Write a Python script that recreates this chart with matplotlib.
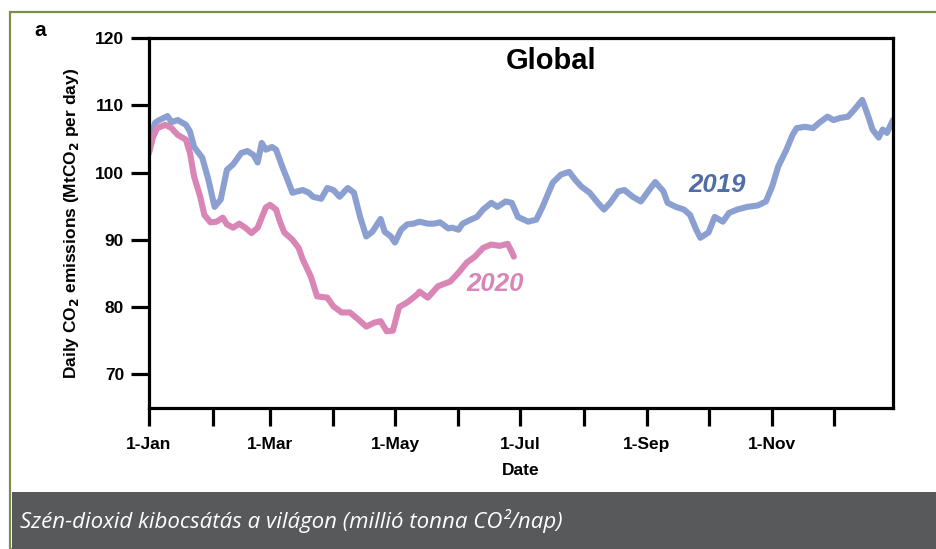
import matplotlib
matplotlib.use("Agg")
import matplotlib.pyplot as plt
from matplotlib.patches import Rectangle

# ---- data (day of year, MtCO2 per day) ----
days_2019 = [0, 3, 5, 9, 11, 14, 18, 20, 22, 26, 29, 32, 35, 38, 41, 45, 48, 51, 53, 55,
             57, 60, 62, 65, 68, 70, 75, 78, 80, 84, 87, 90, 93, 96, 97, 100, 103, 106,
             109, 113, 115, 118, 120, 123, 126, 129, 132, 136, 139, 142, 146, 148, 151,
             153, 157, 160, 163, 167, 170, 174, 177, 180, 185, 189, 192, 197, 201, 205,
             208, 211, 215, 219, 222, 225, 229, 232, 236, 240, 244, 247, 251, 253, 257,
             261, 264, 267, 269, 273, 276, 280, 283, 287, 292, 297, 301, 304, 307, 311,
             314, 316, 320, 324, 327, 331, 334, 337, 341, 344, 348, 351, 353, 356, 358,
             360, 363]
vals_2019 = [104.5, 107.4, 107.8, 108.4, 107.5, 107.8, 107.1, 106.1, 103.8, 102.2, 98.9,
             94.9, 96.0, 100.4, 101.2, 102.9, 103.2, 102.6, 101.5, 104.4, 103.4, 103.8,
             103.4, 100.9, 98.6, 97.0, 97.4, 97.0, 96.4, 96.1, 97.7, 97.4, 96.4, 97.4,
             97.7, 97.0, 93.4, 90.5, 91.2, 93.1, 91.2, 90.5, 89.6, 91.5, 92.3, 92.4, 92.7,
             92.4, 92.4, 92.6, 91.7, 91.8, 91.5, 92.4, 93.0, 93.4, 94.5, 95.5, 94.9, 95.7,
             95.5, 93.4, 92.7, 93.0, 94.9, 98.5, 99.7, 100.1, 98.9, 97.9, 97.0, 95.5, 94.5,
             95.5, 97.2, 97.4, 96.4, 95.7, 97.4, 98.6, 97.2, 95.5, 94.9, 94.5, 93.7, 91.5,
             90.3, 91.1, 93.4, 92.7, 94.0, 94.5, 94.9, 95.1, 95.7, 97.9, 100.9, 103.4,
             105.6, 106.6, 106.8, 106.6, 107.4, 108.3, 107.8, 108.1, 108.3, 109.3, 110.8,
             108.3, 106.4, 105.2, 106.4, 105.9, 107.8]

days_2020 = [0, 2, 4, 8, 11, 14, 18, 20, 22, 25, 27, 30, 33, 36, 38, 41, 44, 47, 50, 53,
             57, 59, 62, 64, 66, 70, 73, 75, 79, 82, 87, 90, 94, 98, 102, 106, 110, 113,
             116, 119, 122, 126, 131, 132, 136, 141, 147, 151, 155, 159, 163, 167, 171,
             175, 177, 178]
vals_2020 = [102.9, 105.3, 106.6, 107.1, 106.6, 105.6, 104.9, 102.9, 99.4, 96.4, 93.7,
             92.6, 92.7, 93.3, 92.3, 91.8, 92.4, 91.8, 91.0, 91.8, 94.8, 95.2, 94.5, 92.6,
             91.1, 90.0, 88.8, 87.1, 84.5, 81.6, 81.4, 80.1, 79.2, 79.2, 78.2, 77.1, 77.7,
             77.9, 76.4, 76.5, 80.0, 80.7, 81.9, 82.3, 81.4, 83.1, 83.8, 85.1, 86.6, 87.5,
             88.8, 89.3, 89.1, 89.4, 88.2, 87.5]

month_starts = [0, 31, 59, 90, 120, 151, 181, 212, 243, 273, 304, 334]
month_labels = ["1-Jan", "", "1-Mar", "", "1-May", "", "1-Jul", "", "1-Sep", "", "1-Nov", ""]
y_ticks = [70, 80, 90, 100, 110, 120]

blue = "#8b9fd1"
pink = "#d985b6"

plt.rcParams['font.family'] = ['Liberation Sans', 'DejaVu Sans']

fig = plt.figure(figsize=(9.36, 5.49), dpi=100)
W, H = 936, 549

# outer frame and caption banner
fig.patches.append(Rectangle((10 / W, 0), 1 - 10 / W + 0.01, 1 - 12 / H, transform=fig.transFigure,
                             facecolor="white", edgecolor="#7b8c4c", linewidth=1.6, zorder=-5))
fig.patches.append(Rectangle((12 / W, 0), 1, 57 / H, transform=fig.transFigure,
                             facecolor="#58595b", edgecolor="none", zorder=-4))
fig.text(20 / W, 28 / H, "Szén-dioxid kibocsátás a világon (millió tonna CO²/nap)",
         family=["Open Sans", "DejaVu Sans"], style="italic", color="white",
         fontsize=16, va="center", ha="left")

ax = fig.add_axes([149 / W, 1 - 408 / H, (893 - 149) / W, (408 - 38) / H])
ax.set_facecolor("none")
ax.plot(days_2019, vals_2019, color=blue, lw=4.4, solid_capstyle="round", solid_joinstyle="round")
ax.plot(days_2020, vals_2020, color=pink, lw=4.4, solid_capstyle="round", solid_joinstyle="round")

ax.set_xlim(0, 363)
ax.set_ylim(65, 120)
ax.set_yticks(y_ticks)
ax.set_yticklabels([str(v) for v in y_ticks], fontweight="bold", fontsize=12.5)
ax.set_xticks(month_starts)
ax.set_xticklabels(month_labels, fontweight="bold", fontsize=12.5)
for s in ax.spines.values():
    s.set_linewidth(2.3)
ax.tick_params(axis="both", direction="out", length=13, width=2.3, pad=5)
ax.tick_params(axis="x", pad=8)

ax.set_xlabel("Date", fontweight="bold", fontsize=12.5, labelpad=8)
ax.set_ylabel("Daily CO$_\\mathbf{2}$ emissions (MtCO$_\\mathbf{2}$ per day)",
              fontweight="bold", fontsize=12.5, labelpad=10)

ax.text(0.54, 0.975, "Global", transform=ax.transAxes, ha="center", va="top",
        fontweight="bold", fontsize=21)
ax.text(277, 98.1, "2019", ha="center", va="center", fontweight="bold", style="italic",
        fontsize=18.5, color="#4f6ea6")
ax.text(169, 83.5, "2020", ha="center", va="center", fontweight="bold", style="italic",
        fontsize=18.5, color=pink)
fig.text(40 / W, 1 - 30 / H, "a", fontweight="bold", fontsize=15, ha="center", va="center")

fig.savefig("out.png", dpi=100)
